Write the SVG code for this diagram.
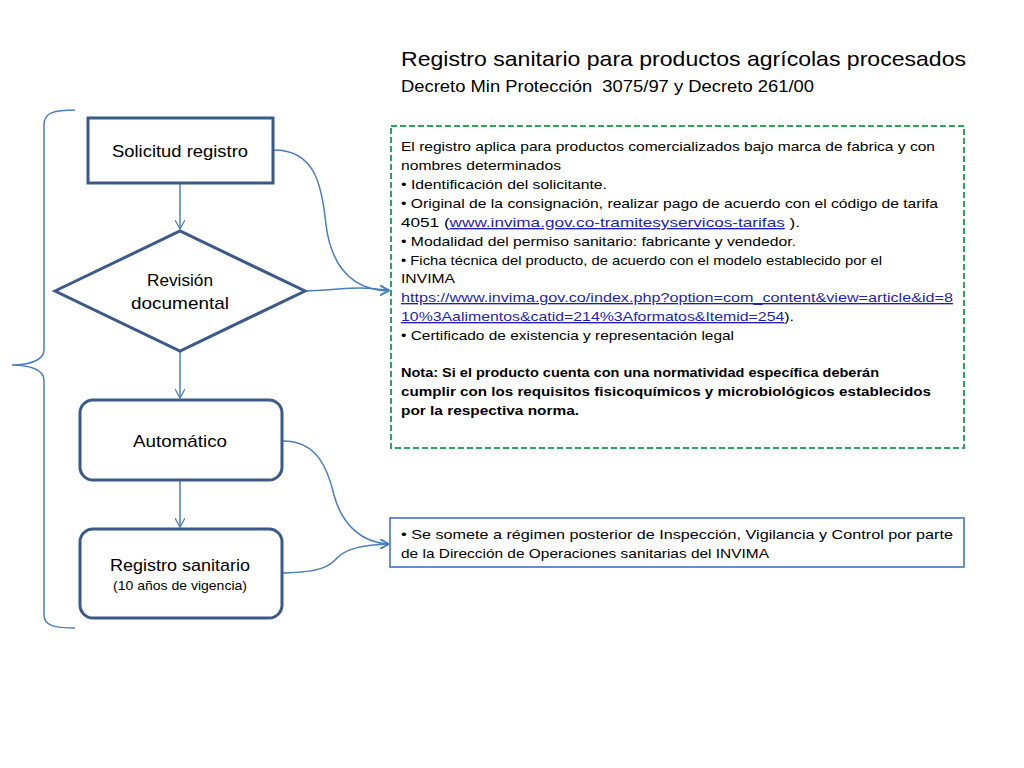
<svg xmlns="http://www.w3.org/2000/svg" width="1024" height="768" viewBox="0 0 1024 768">
<defs>
<style>
text{font-family:"Liberation Sans","Open Sans",sans-serif;fill:#000}
.node{fill:#fff;stroke:#3B5A8A;stroke-width:3}
.conn{fill:none;stroke:#4A7EBB;stroke-width:1.5}
.lbl{font-size:17px;text-anchor:middle}
.body{font-size:13.5px}
.bold{font-weight:bold}
.link{fill:#1F1FB0;text-decoration:underline}
</style>
<marker id="arr" viewBox="0 0 10 10" refX="9" refY="5" markerWidth="10" markerHeight="10" markerUnits="userSpaceOnUse" orient="auto">
<path d="M0,0 L9,5 L0,10" fill="none" stroke="#4A7EBB" stroke-width="1.3"/>
</marker>
</defs>
<rect width="1024" height="768" fill="#fff"/>
<g id="title">
<text x="401" y="66" font-size="21" textLength="565" lengthAdjust="spacingAndGlyphs">Registro sanitario para productos agrícolas procesados</text>
<text x="401" y="92" font-size="16" textLength="413" lengthAdjust="spacingAndGlyphs">Decreto Min Protección&#160; 3075/97 y Decreto 261/00</text>
</g>
<g id="brace">
<path class="conn" d="M75,110 C55,110 44,112 44,125 L44,350 C44,360 30,365 12,365 C30,365 44,370 44,380 L44,615 C44,626 55,628 75,628"/>
</g>
<g id="connectors">
<path class="conn" d="M180,184 L180,229" marker-end="url(#arr)"/>
<path class="conn" d="M180,352 L180,398" marker-end="url(#arr)"/>
<path class="conn" d="M180,481 L180,527" marker-end="url(#arr)"/>
<path class="conn" d="M274,150 C315,150 322,185 326,225 C332,270 355,290 389,291" marker-end="url(#arr)"/>
<path class="conn" d="M306,291 C335,290 345,288 360,288 C372,288 380,290 389,290" marker-end="url(#arr)"/>
<path class="conn" d="M283,441 C318,441 328,470 334,495 C342,525 362,543 389,544" marker-end="url(#arr)"/>
<path class="conn" d="M283,573 C322,572 330,566 337,558 C346,548 365,545 389,544" marker-end="url(#arr)"/>
</g>
<g id="solicitud">
<rect class="node" x="88" y="118" width="185" height="65"/>
<text class="lbl" x="180" y="157" textLength="136" lengthAdjust="spacingAndGlyphs">Solicitud registro</text>
</g>
<g id="revision">
<polygon class="node" points="55,291 180,231 305,291 180,351"/>
<text class="lbl" x="180" y="286" textLength="66" lengthAdjust="spacingAndGlyphs">Revisión</text>
<text class="lbl" x="180" y="309" textLength="98" lengthAdjust="spacingAndGlyphs">documental</text>
</g>
<g id="automatico">
<rect class="node" x="80" y="400" width="202" height="80" rx="13"/>
<text class="lbl" x="180" y="447" textLength="94" lengthAdjust="spacingAndGlyphs">Automático</text>
</g>
<g id="registro">
<rect class="node" x="80" y="529" width="202" height="89" rx="13"/>
<text class="lbl" x="180" y="571" textLength="140" lengthAdjust="spacingAndGlyphs">Registro sanitario</text>
<text x="180" y="590" font-size="13.5" text-anchor="middle" textLength="134" lengthAdjust="spacingAndGlyphs">(10 años de vigencia)</text>
</g>
<g id="requisitos">
<rect x="391" y="126" width="573" height="322" fill="#fff" stroke="#2EA35A" stroke-width="2" stroke-dasharray="6,3"/>
<text class="body" x="401" y="151" textLength="534" lengthAdjust="spacingAndGlyphs">El registro aplica para productos comercializados bajo marca de fabrica y con</text>
<text class="body" x="401" y="170" textLength="160" lengthAdjust="spacingAndGlyphs">nombres determinados</text>
<text class="body" x="401" y="189" textLength="206" lengthAdjust="spacingAndGlyphs">• Identificación del solicitante.</text>
<text class="body" x="401" y="208" textLength="537" lengthAdjust="spacingAndGlyphs">• Original de la consignación, realizar pago de acuerdo con el código de tarifa</text>
<text class="body" x="401" y="227" textLength="399" lengthAdjust="spacingAndGlyphs">4051 (<tspan class="link">www.invima.gov.co-tramitesyservicos-tarifas</tspan> ).</text>
<text class="body" x="401" y="246" textLength="395" lengthAdjust="spacingAndGlyphs">• Modalidad del permiso sanitario: fabricante y vendedor.</text>
<text class="body" x="401" y="265" textLength="481" lengthAdjust="spacingAndGlyphs">• Ficha técnica del producto, de acuerdo con el modelo establecido por el</text>
<text class="body" x="401" y="283" textLength="54" lengthAdjust="spacingAndGlyphs">INVIMA</text>
<text class="body link" x="401" y="302" textLength="552" lengthAdjust="spacingAndGlyphs">https://www.invima.gov.co/index.php?option=com_content&amp;view=article&amp;id=8</text>
<text class="body" x="401" y="321" textLength="393" lengthAdjust="spacingAndGlyphs"><tspan class="link">10%3Aalimentos&amp;catid=214%3Aformatos&amp;Itemid=254</tspan>).</text>
<text class="body" x="401" y="340" textLength="333" lengthAdjust="spacingAndGlyphs">• Certificado de existencia y representación legal</text>
<text class="body bold" x="401" y="377" textLength="478" lengthAdjust="spacingAndGlyphs">Nota: Si el producto cuenta con una normatividad específica deberán</text>
<text class="body bold" x="401" y="396" textLength="530" lengthAdjust="spacingAndGlyphs">cumplir con los requisitos fisicoquímicos y microbiológicos establecidos</text>
<text class="body bold" x="401" y="415" textLength="178" lengthAdjust="spacingAndGlyphs">por la respectiva norma.</text>
</g>
<g id="control">
<rect x="390" y="518" width="574" height="49" fill="#fff" stroke="#6A8FC7" stroke-width="2"/>
<text class="body" x="401" y="539" textLength="552" lengthAdjust="spacingAndGlyphs">•  Se somete a régimen posterior de Inspección, Vigilancia y Control por parte</text>
<text class="body" x="401" y="558" textLength="368" lengthAdjust="spacingAndGlyphs">de la Dirección de Operaciones sanitarias del INVIMA</text>
</g>
</svg>
